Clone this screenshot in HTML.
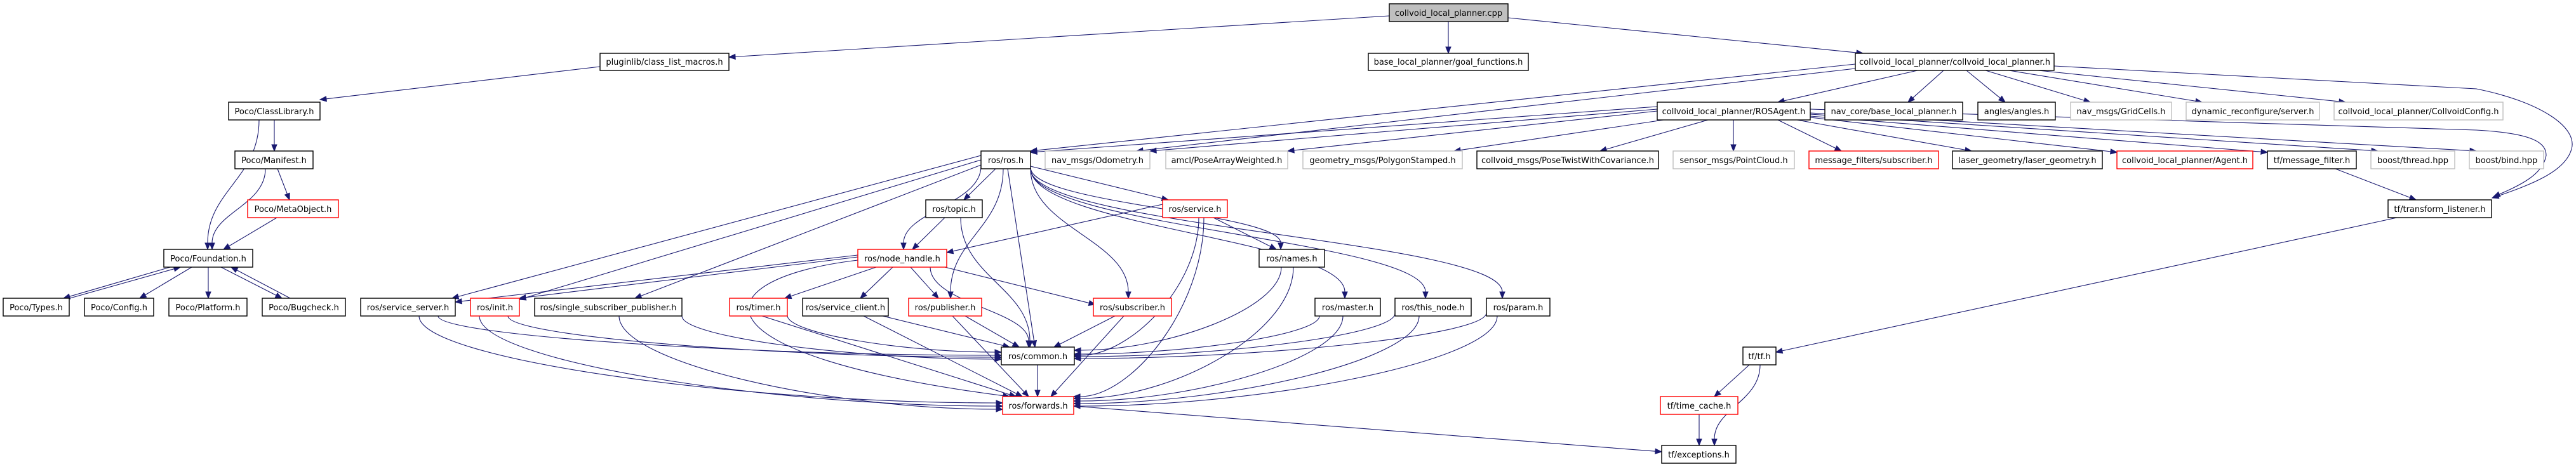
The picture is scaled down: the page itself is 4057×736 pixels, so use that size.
<!DOCTYPE html>
<html><head><meta charset="utf-8"><style>
html,body{margin:0;padding:0;background:#fff;}
svg{display:block;}
text{font-family:"DejaVu Sans","Liberation Sans",sans-serif;font-size:13px;fill:#000;}
</style></head><body>
<svg id="g" width="4057" height="736" viewBox="0 0 4057 736" xmlns="http://www.w3.org/2000/svg">
<g id="edges" stroke="#191970" fill="none" stroke-width="1.1"></g>
<g id="heads" fill="#191970" stroke="#191970"></g>
<g stroke-width="1.4">
<rect x="2188" y="6" width="187" height="28" fill="#bfbfbf" stroke="#000"/><text x="2281.5" y="25" text-anchor="middle">collvoid_local_planner.cpp</text>
<rect x="945" y="84" width="203" height="27" fill="#fff" stroke="#000"/><text x="1046.5" y="102" text-anchor="middle">pluginlib/class_list_macros.h</text>
<rect x="2155" y="84" width="252" height="27" fill="#fff" stroke="#000"/><text x="2281" y="102" text-anchor="middle">base_local_planner/goal_functions.h</text>
<rect x="2922" y="84" width="313" height="27" fill="#fff" stroke="#000"/><text x="3078.5" y="102" text-anchor="middle">collvoid_local_planner/collvoid_local_planner.h</text>

<rect x="360" y="161" width="144" height="28" fill="#fff" stroke="#000"/><text x="432" y="180" text-anchor="middle">Poco/ClassLibrary.h</text>
<rect x="2610" y="161" width="241" height="28" fill="#fff" stroke="#000"/><text x="2730.5" y="180" text-anchor="middle">collvoid_local_planner/ROSAgent.h</text>
<rect x="2874" y="161" width="217" height="28" fill="#fff" stroke="#000"/><text x="2982.5" y="180" text-anchor="middle">nav_core/base_local_planner.h</text>
<rect x="3115" y="161" width="122" height="28" fill="#fff" stroke="#000"/><text x="3176" y="180" text-anchor="middle">angles/angles.h</text>
<rect x="3261" y="161" width="159" height="28" fill="#fff" stroke="#bfbfbf"/><text x="3340.5" y="180" text-anchor="middle">nav_msgs/GridCells.h</text>
<rect x="3443" y="161" width="210" height="28" fill="#fff" stroke="#bfbfbf"/><text x="3548" y="180" text-anchor="middle">dynamic_reconfigure/server.h</text>
<rect x="3676" y="161" width="266" height="28" fill="#fff" stroke="#bfbfbf"/><text x="3809" y="180" text-anchor="middle">collvoid_local_planner/CollvoidConfig.h</text>

<rect x="370" y="238" width="123" height="28" fill="#fff" stroke="#000"/><text x="431.5" y="257" text-anchor="middle">Poco/Manifest.h</text>
<rect x="1545" y="238" width="78" height="28" fill="#fff" stroke="#000"/><text x="1584" y="257" text-anchor="middle">ros/ros.h</text>
<rect x="1646" y="238" width="165" height="28" fill="#fff" stroke="#bfbfbf"/><text x="1728.5" y="257" text-anchor="middle">nav_msgs/Odometry.h</text>
<rect x="1836" y="238" width="192" height="28" fill="#fff" stroke="#bfbfbf"/><text x="1932" y="257" text-anchor="middle">amcl/PoseArrayWeighted.h</text>
<rect x="2052" y="238" width="251" height="28" fill="#fff" stroke="#bfbfbf"/><text x="2177.5" y="257" text-anchor="middle">geometry_msgs/PolygonStamped.h</text>
<rect x="2326" y="238" width="286" height="28" fill="#fff" stroke="#000"/><text x="2469" y="257" text-anchor="middle">collvoid_msgs/PoseTwistWithCovariance.h</text>
<rect x="2635" y="238" width="191" height="28" fill="#fff" stroke="#bfbfbf"/><text x="2730.5" y="257" text-anchor="middle">sensor_msgs/PointCloud.h</text>
<rect x="2849" y="238" width="204" height="28" fill="#fff" stroke="#ff0000"/><text x="2951" y="257" text-anchor="middle">message_filters/subscriber.h</text>
<rect x="3075" y="238" width="236" height="28" fill="#fff" stroke="#000"/><text x="3193" y="257" text-anchor="middle">laser_geometry/laser_geometry.h</text>
<rect x="3334" y="238" width="214" height="28" fill="#fff" stroke="#ff0000"/><text x="3441" y="257" text-anchor="middle">collvoid_local_planner/Agent.h</text>
<rect x="3571" y="238" width="140" height="28" fill="#fff" stroke="#000"/><text x="3641" y="257" text-anchor="middle">tf/message_filter.h</text>
<rect x="3734" y="238" width="132" height="28" fill="#fff" stroke="#bfbfbf"/><text x="3800" y="257" text-anchor="middle">boost/thread.hpp</text>
<rect x="3889" y="238" width="117" height="28" fill="#fff" stroke="#bfbfbf"/><text x="3947.5" y="257" text-anchor="middle">boost/bind.hpp</text>

<rect x="390" y="315" width="143" height="28" fill="#fff" stroke="#ff0000"/><text x="461.5" y="334" text-anchor="middle">Poco/MetaObject.h</text>
<rect x="1458" y="315" width="89" height="28" fill="#fff" stroke="#000"/><text x="1502.5" y="334" text-anchor="middle">ros/topic.h</text>
<rect x="1831" y="315" width="102" height="28" fill="#fff" stroke="#ff0000"/><text x="1882" y="334" text-anchor="middle">ros/service.h</text>
<rect x="3761" y="315" width="163" height="28" fill="#fff" stroke="#000"/><text x="3842.5" y="334" text-anchor="middle">tf/transform_listener.h</text>

<rect x="258" y="393" width="140" height="28" fill="#fff" stroke="#000"/><text x="328" y="412" text-anchor="middle">Poco/Foundation.h</text>
<rect x="1351" y="393" width="140" height="28" fill="#fff" stroke="#ff0000"/><text x="1421" y="412" text-anchor="middle">ros/node_handle.h</text>
<rect x="1983" y="393" width="103" height="28" fill="#fff" stroke="#000"/><text x="2034.5" y="412" text-anchor="middle">ros/names.h</text>

<rect x="5" y="470" width="104" height="28" fill="#fff" stroke="#000"/><text x="57" y="489" text-anchor="middle">Poco/Types.h</text>
<rect x="133" y="470" width="109" height="28" fill="#fff" stroke="#000"/><text x="187.5" y="489" text-anchor="middle">Poco/Config.h</text>
<rect x="266" y="470" width="123" height="28" fill="#fff" stroke="#000"/><text x="327.5" y="489" text-anchor="middle">Poco/Platform.h</text>
<rect x="413" y="470" width="131" height="28" fill="#fff" stroke="#000"/><text x="478.5" y="489" text-anchor="middle">Poco/Bugcheck.h</text>
<rect x="568" y="470" width="149" height="28" fill="#fff" stroke="#000"/><text x="642.5" y="489" text-anchor="middle">ros/service_server.h</text>
<rect x="741" y="470" width="77" height="28" fill="#fff" stroke="#ff0000"/><text x="779.5" y="489" text-anchor="middle">ros/init.h</text>
<rect x="842" y="470" width="232" height="28" fill="#fff" stroke="#000"/><text x="958" y="489" text-anchor="middle">ros/single_subscriber_publisher.h</text>
<rect x="1149" y="470" width="91" height="28" fill="#fff" stroke="#ff0000"/><text x="1194.5" y="489" text-anchor="middle">ros/timer.h</text>
<rect x="1264" y="470" width="135" height="28" fill="#fff" stroke="#000"/><text x="1331.5" y="489" text-anchor="middle">ros/service_client.h</text>
<rect x="1431" y="470" width="115" height="28" fill="#fff" stroke="#ff0000"/><text x="1488.5" y="489" text-anchor="middle">ros/publisher.h</text>
<rect x="1722" y="470" width="123" height="28" fill="#fff" stroke="#ff0000"/><text x="1783.5" y="489" text-anchor="middle">ros/subscriber.h</text>
<rect x="2071" y="470" width="103" height="28" fill="#fff" stroke="#000"/><text x="2122.5" y="489" text-anchor="middle">ros/master.h</text>
<rect x="2197" y="470" width="120" height="28" fill="#fff" stroke="#000"/><text x="2257" y="489" text-anchor="middle">ros/this_node.h</text>
<rect x="2341" y="470" width="100" height="28" fill="#fff" stroke="#000"/><text x="2391" y="489" text-anchor="middle">ros/param.h</text>

<rect x="1577" y="547" width="115" height="28" fill="#fff" stroke="#000"/><text x="1634.5" y="566" text-anchor="middle">ros/common.h</text>
<rect x="2745" y="547" width="52" height="28" fill="#fff" stroke="#000"/><text x="2771" y="566" text-anchor="middle">tf/tf.h</text>

<rect x="1579" y="625" width="112" height="28" fill="#fff" stroke="#ff0000"/><text x="1635" y="644" text-anchor="middle">ros/forwards.h</text>
<rect x="2615" y="625" width="122" height="28" fill="#fff" stroke="#ff0000"/><text x="2676" y="644" text-anchor="middle">tf/time_cache.h</text>

<rect x="2617" y="702" width="117" height="28" fill="#fff" stroke="#000"/><text x="2675.5" y="721" text-anchor="middle">tf/exceptions.h</text>
</g>
</svg>
<script>
(function(){
var E=[
[2188,25,1148,90,'s'],[2281,34,2281,84,'s'],[2375,28,2934,84,'s'],[945,105,504,157,'s'],
[408,189,327,393,'v'],[432,189,432,238,'s'],[418,266,334,393,'v'],[437,266,456,315,'s'],
[436,343,352,393,'s'],[268,421,100,470,'s'],[110,470,284,421,'s'],[302,421,220,470,'s'],
[328,421,328,470,'s'],[348,421,444,470,'s'],[457,470,364,421,'s'],
[2922,101,1623,238,'s'],[2610,168,1623,240,'s'],[2922,108,1790,238,'s'],[2610,172,1811,238,'s'],
[2610,175,2028,238,'s'],[2620,189,2290,238,'s'],[2690,189,2520,238,'s'],[2730,189,2730,238,'s'],
[3020,111,2800,161,'s'],[3061,111,3005,161,'s'],[3097,111,3158,161,'s'],[3127,111,3292,161,'s'],
[3164,111,3468,161,'s'],[3210,111,3694,161,'s'],
[2800,189,2900,238,'s'],[2830,189,3105,238,'s'],[2851,185,3334,240,'s'],[2851,183,3571,240,'s'],
[2851,180,3745,238,'s'],[2851,178,3900,238,'s'],[3678,266,3805,315,'s'],[3775,343,2797,555,'s'],
[2755,575,2700,625,'s'],[2772,575,2700,702,'v'],[2676,653,2676,702,'s'],[1691,640,2617,712,'s'],
[1568,266,1518,315,'s'],[1545,262,1423,393,'v'],[1580,266,1497,470,'v'],[1587,266,1630,547,'s'],
[1623,266,1777,470,'v'],[1623,262,1840,315,'s'],[1623,264,2017,393,'v'],[1623,265,2118,470,'v'],
[1623,266,2245,470,'v'],[1623,266,2366,470,'v'],[1545,245,712,470,'s'],[1545,252,818,472,'s'],
[1545,260,1000,470,'s'],[1488,343,1437,393,'s'],[1513,343,1622,547,'v'],[1831,322,1491,398,'s'],
[1911,343,2010,393,'s'],[1888,343,1692,560,'h'],[1896,343,1691,625,'h'],
[1351,402,717,476,'s'],[1351,405,818,470,'s'],[1380,421,1236,470,'s'],[1406,421,1355,470,'s'],
[1434,421,1478,470,'s'],[1488,421,1725,480,'s'],[1465,421,1620,547,'v'],
[690,498,1577,560,'h'],[800,498,1577,563,'h'],[1074,498,1577,566,'h'],[1240,497,1577,555,'h'],
[1390,498,1590,547,'s'],[1520,498,1605,547,'s'],[1756,498,1660,547,'s'],[2078,498,1692,558,'h'],
[2197,494,1692,562,'h'],[2341,493,1692,565,'h'],[2018,421,1692,552,'h'],
[660,498,1579,635,'h'],[755,498,1579,640,'h'],[975,498,1579,645,'h'],[1200,498,1600,625,'s'],
[1360,498,1610,625,'s'],[1500,498,1620,625,'s'],[1770,498,1655,625,'s'],[2115,498,1691,632,'h'],
[2235,498,1691,636,'h'],[2358,498,1691,640,'h'],[2037,421,1691,628,'h'],[1634,575,1634,625,'s']
];
var P=[
["M3235,104 L3900,140 C4000,160 4060,200 4050,235 C4040,270 3990,290 3925,312",3990,290,3925,312],
["M2851,172 L3900,205 C3990,210 4010,225 4010,245 C4005,275 3970,292 3927,310",3970,292,3927,310],
["M1351,410 C1100,440 1080,560 1590,625",1080,560,1590,625]
];
var ns="http://www.w3.org/2000/svg",eg=document.getElementById('edges'),hg=document.getElementById('heads');
function head(cx,cy,ex,ey){var dx=ex-cx,dy=ey-cy,l=Math.sqrt(dx*dx+dy*dy)||1;dx/=l;dy/=l;
var bx=ex-dx*10,by=ey-dy*10,px=-dy*4,py=dx*4;var p=document.createElementNS(ns,'polygon');
p.setAttribute('points',ex+','+ey+' '+(bx+px)+','+(by+py)+' '+(bx-px)+','+(by-py));hg.appendChild(p);return [bx,by];}
function path(d){var p=document.createElementNS(ns,'path');p.setAttribute('d',d);eg.appendChild(p);}
E.forEach(function(e){var sx=e[0],sy=e[1],ex=e[2],ey=e[3],m=e[4],d,c2x,c2y;
if(m==='s'){c2x=sx;c2y=sy;var b=head(sx,sy,ex,ey);path('M'+sx+','+sy+' L'+b[0]+','+b[1]);return;}
var dy=ey-sy,dx=ex-sx;
if(m==='v'){var c1x=sx,c1y=sy+dy*0.45;c2x=ex;c2y=ey-dy*0.45;}
else{var c1x=sx,c1y=sy+dy*0.5;c2x=ex-dx*0.45;c2y=ey;}
var b=head(c2x,c2y,ex,ey);
path('M'+sx+','+sy+' C'+c1x+','+c1y+' '+c2x+','+c2y+' '+b[0]+','+b[1]);});
P.forEach(function(p){var b=head(p[1],p[2],p[3],p[4]);path(p[0]);});
})();
</script>
</body></html>
